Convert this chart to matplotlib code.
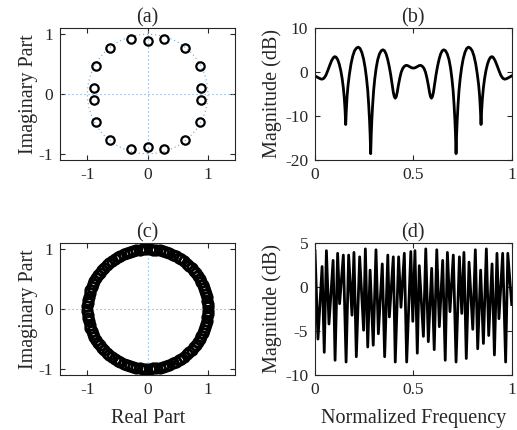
import numpy as np
import matplotlib.pyplot as plt
from matplotlib.patches import Circle

plt.rcParams['font.family'] = 'Liberation Serif'
plt.rcParams['axes.unicode_minus'] = False

# (a) zeros of the short filter
zeros_a_re = [-0.273, 0.0, 0.273, -0.622, 0.622, -0.865, 0.865, -0.89, 0.89,
              -0.89, 0.89, -0.865, 0.865, -0.622, 0.622, -0.273, 0.0, 0.273]
zeros_a_im = [0.921, 0.888, 0.921, 0.776, 0.776, 0.464, 0.464, 0.106, 0.106,
              -0.106, -0.106, -0.464, -0.464, -0.776, -0.776, -0.921, -0.888, -0.921]

# (b) magnitude response
freq_b = [0.000, 0.010, 0.020, 0.030, 0.036, 0.045, 0.055, 0.065, 0.075, 0.085,
          0.093, 0.100, 0.107, 0.115, 0.123, 0.131, 0.138, 0.144, 0.149, 0.153,
          0.156, 0.159, 0.163, 0.168, 0.175, 0.183, 0.192, 0.201, 0.211, 0.220,
          0.229, 0.238, 0.247, 0.255, 0.262, 0.268, 0.273, 0.277, 0.280, 0.283,
          0.286, 0.289, 0.293, 0.298, 0.304, 0.311, 0.319, 0.328, 0.337, 0.345,
          0.353, 0.361, 0.369, 0.377, 0.385, 0.392, 0.398, 0.403, 0.408, 0.413,
          0.418, 0.424, 0.431, 0.438, 0.446, 0.455, 0.464, 0.472, 0.480, 0.490,
          0.500, 0.510, 0.520, 0.528, 0.536, 0.545, 0.554, 0.562, 0.569, 0.576,
          0.582, 0.587, 0.592, 0.597, 0.602, 0.608, 0.615, 0.623, 0.631, 0.639,
          0.647, 0.655, 0.663, 0.672, 0.681, 0.689, 0.696, 0.702, 0.707, 0.711,
          0.714, 0.717, 0.720, 0.723, 0.727, 0.732, 0.738, 0.745, 0.753, 0.762,
          0.771, 0.780, 0.789, 0.799, 0.808, 0.817, 0.825, 0.832, 0.837, 0.841,
          0.844, 0.847, 0.851, 0.856, 0.862, 0.869, 0.877, 0.885, 0.893, 0.900,
          0.907, 0.915, 0.925, 0.935, 0.945, 0.955, 0.964, 0.970, 0.980, 0.990,
          1.000]
mag_b = [-0.9, -1.15, -1.4, -1.6, -1.65, -1.45, -0.8, 0.3, 1.5, 2.6,
         3.2, 3.45, 3.35, 2.8, 1.8, 0.3, -1.5, -3.6, -6.0, -8.8,
         -11.9, -8.8, -5.6, -3.0, -0.5, 1.8, 3.6, 4.8, 5.4, 5.6,
         5.3, 4.4, 2.9, 0.9, -1.5, -4.2, -7.5, -10.8, -14.0, -18.5,
         -14.0, -10.8, -7.5, -4.2, -1.5, 0.9, 2.8, 4.1, 4.8, 5.0,
         4.8, 4.1, 2.9, 1.3, -0.7, -2.8, -4.6, -5.6, -5.95, -5.6,
         -4.6, -3.0, -1.4, -0.1, 0.8, 1.3, 1.5, 1.4, 1.2, 0.95,
         0.85, 0.95, 1.2, 1.4, 1.5, 1.3, 0.8, -0.1, -1.4, -3.0,
         -4.6, -5.6, -5.95, -5.6, -4.6, -2.8, -0.7, 1.3, 2.9, 4.1,
         4.8, 5.0, 4.8, 4.1, 2.8, 0.9, -1.5, -4.2, -7.5, -10.8,
         -14.0, -18.5, -14.0, -10.8, -7.5, -4.2, -1.5, 0.9, 2.9, 4.4,
         5.3, 5.6, 5.4, 4.8, 3.6, 1.8, -0.5, -3.0, -5.6, -8.8,
         -11.9, -8.8, -6.0, -3.6, -1.5, 0.3, 1.8, 2.8, 3.35, 3.45,
         3.2, 2.6, 1.5, 0.3, -0.8, -1.45, -1.65, -1.6, -1.4, -1.15,
         -0.9]

# (c) zeros of the long filter: angles (deg) of the upper half, conjugates mirrored
angles_c_deg = [1.6, 4.8, 8.0, 11.2, 14.4, 17.6, 20.8, 24.0, 27.2, 30.4,
                33.6, 36.8, 40.0, 43.2, 46.4, 49.6, 52.8, 56.0, 59.2, 62.4,
                65.6, 68.8, 72.0, 75.2, 78.4, 81.6, 84.8, 88.0, 91.2, 94.4,
                97.6, 100.8, 104.0, 107.2, 110.4, 113.6, 116.8, 120.0, 123.2, 126.4,
                129.6, 132.8, 136.0, 139.2, 142.4, 145.6, 148.8, 152.0, 155.2, 158.4,
                161.6, 164.8, 168.0, 171.2, 174.4, 177.6]
radius_c = 1.0

# (d) magnitude response, peaks and dips
freq_d = [0.000, 0.015, 0.036, 0.047, 0.058, 0.071, 0.092, 0.102, 0.115, 0.125,
          0.144, 0.158, 0.171, 0.188, 0.198, 0.210, 0.227, 0.247, 0.256, 0.268,
          0.280, 0.296, 0.310, 0.322, 0.342, 0.354, 0.370, 0.378, 0.398, 0.408,
          0.425, 0.437, 0.454, 0.466, 0.487, 0.497, 0.508, 0.520, 0.530, 0.551,
          0.563, 0.576, 0.593, 0.606, 0.619, 0.632, 0.649, 0.662, 0.673, 0.686,
          0.703, 0.717, 0.734, 0.746, 0.757, 0.769, 0.783, 0.802, 0.815, 0.827,
          0.842, 0.856, 0.871, 0.883, 0.900, 0.912, 0.925, 0.935, 0.954, 0.969,
          0.980, 1.000]
mag_d = [4.1, -5.9, 2.3, -7.4, 4.1, -4.2, 3.0, -8.3, 3.8, -1.9,
         3.6, -8.5, 3.6, -3.2, 3.9, -7.9, 3.4, -4.9, 4.3, -6.8,
         1.9, -6.6, 4.2, -5.3, 2.6, -7.9, 3.6, -3.4, 3.4, -8.5,
         3.4, -2.3, 3.8, -8.5, 4.0, -3.9, 4.1, -7.5, 2.4, -5.6,
         4.3, -6.2, 2.1, -7.1, 4.2, -4.5, 3.0, -8.3, 3.9, -2.8,
         3.6, -8.5, 3.4, -3.0, 3.9, -8.1, 2.8, -4.8, 4.2, -7.0,
         1.9, -6.4, 4.3, -5.5, 2.6, -7.7, 3.8, -3.6, 3.8, -8.5,
         3.8, -2.0]

fg = '#262626'
guide = '#6aa6da'
dots = (1, 2.6)


def style(ax):
    ax.tick_params(direction='in', top=True, right=True, length=3.5, width=0.8,
                   labelsize=12.5, colors=fg)
    ax.tick_params(axis='x', pad=5)
    ax.tick_params(axis='y', pad=5)
    for s in ax.spines.values():
        s.set_linewidth(0.8)
        s.set_color(fg)


def zplane(ax, re, im, ms=6, mew=1.6):
    ax.add_patch(Circle((0, 0), 1, fill=False, ls=(0, dots), lw=0.8, ec=guide))
    ax.axhline(0, ls=(0, dots), lw=0.8, color=guide)
    ax.axvline(0, ls=(0, dots), lw=0.8, color=guide)
    ax.plot(re, im, 'o', mfc='none', mec='k', ms=ms, mew=mew)
    ax.set_xlim(-1.45, 1.45)
    ax.set_ylim(-1.11, 1.11)
    ax.set_xticks([-1, 0, 1])
    ax.set_yticks([-1, 0, 1])
    ax.set_ylabel('Imaginary Part', fontsize=14.5, color=fg, labelpad=0.5)
    style(ax)


fig = plt.figure(figsize=(5.17, 4.3), dpi=100)
ax_a = fig.add_axes([0.1166, 0.6272, 0.338, 0.3084])
ax_b = fig.add_axes([0.6093, 0.6272, 0.3805, 0.3084])
ax_c = fig.add_axes([0.1166, 0.1272, 0.338, 0.3084])
ax_d = fig.add_axes([0.6093, 0.1272, 0.3805, 0.3084])

zplane(ax_a, zeros_a_re, zeros_a_im)
ax_a.set_title('(a)', fontsize=14.5, color=fg, pad=4)

ang = np.deg2rad(angles_c_deg)
re_c = np.concatenate([radius_c * np.cos(ang), radius_c * np.cos(ang)])
im_c = np.concatenate([radius_c * np.sin(ang), -radius_c * np.sin(ang)])
zplane(ax_c, re_c, im_c, ms=7, mew=1.8)
ax_c.set_title('(c)', fontsize=14.5, color=fg, pad=4)
ax_c.set_xlabel('Real Part', fontsize=14.5, color=fg, labelpad=8)

ax_b.plot(freq_b, mag_b, color='k', lw=2)
ax_b.set_xlim(0, 1)
ax_b.set_ylim(-20, 10)
ax_b.set_xticks([0, 0.5, 1])
ax_b.set_xticklabels(['0', '0.5', '1'])
ax_b.set_yticks([-20, -10, 0, 10])
ax_b.set_ylabel('Magnitude (dB)', fontsize=14.5, color=fg, labelpad=2)
ax_b.set_title('(b)', fontsize=14.5, color=fg, pad=4)
style(ax_b)

ax_d.plot(freq_d, mag_d, color='k', lw=2)
ax_d.set_xlim(0, 1)
ax_d.set_ylim(-10, 5)
ax_d.set_xticks([0, 0.5, 1])
ax_d.set_xticklabels(['0', '0.5', '1'])
ax_d.set_yticks([-10, -5, 0, 5])
ax_d.set_ylabel('Magnitude (dB)', fontsize=14.5, color=fg, labelpad=2)
ax_d.set_xlabel('Normalized Frequency', fontsize=14.5, color=fg, labelpad=8)
ax_d.set_title('(d)', fontsize=14.5, color=fg, pad=4)
style(ax_d)

fig.savefig('out.png', dpi=100)
